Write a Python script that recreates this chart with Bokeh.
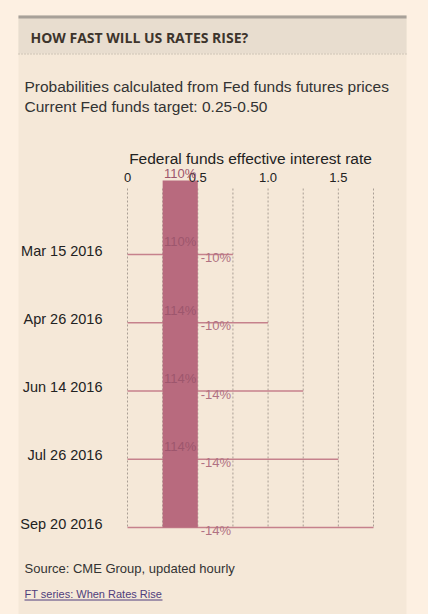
from bokeh.plotting import figure
from bokeh.models import Range1d, FixedTicker, LabelSet, ColumnDataSource, LinearAxis
from bokeh.core.properties import value
from bokeh.embed import file_html
from bokeh.resources import INLINE
from bokeh.core.templates import get_env

# ---- data ----
dates = ["Mar 15 2016", "Apr 26 2016", "Jun 14 2016", "Jul 26 2016", "Sep 20 2016"]
range_max = [0.75, 1.0, 1.25, 1.5, 1.75]
target = [0.25, 0.50]
prob_in_target = ["110%", "110%", "114%", "114%", "114%"]
prob_above = ["-10%", "-10%", "-14%", "-14%", "-14%"]
x_tick_values = [0, 0.5, 1.0, 1.5]
x_tick_labels = ["0", "0.5", "1.0", "1.5"]
grid_values = [0, 0.25, 0.5, 0.75, 1.0, 1.25, 1.5, 1.75]

title_text = "HOW FAST WILL US RATES RISE?"
subtitle_lines = ["Probabilities calculated from Fed funds futures prices",
                  "Current Fed funds target: 0.25-0.50"]
axis_title = "Federal funds effective interest rate"
source_text = "Source: CME Group, updated hourly"
link_text = "FT series: When Rates Rise"

# ---- styles ----
PAGE_BG = "#fdf0e2"
CARD_BG = "#f5e8d8"
HEAD_BG = "#e8ddcf"
GRAY = "#a8a199"
BAR = "#b86a7e"
LINE = "#c6818c"
FONT = "Liberation Sans"
W, H = 428, 614            # figure size in px
CX0, CX1, CY0 = 18, 406, 15  # card edges in px
X0_PX = 127                # px of rate 0 from figure left
PX_PER_UNIT = 140.57
ROW0_PX = 254              # px of first row from figure top
PX_PER_ROW = 68.25
LABEL_LIFT = 4             # px the date labels sit above their row line


def ux(px):
    return (px - X0_PX) / PX_PER_UNIT


def uy(px):
    return (px - ROW0_PX) / PX_PER_ROW


n = len(dates)
rows = list(range(n))

p = figure(width=W, height=H, output_backend="svg", toolbar_location=None,
           x_range=Range1d(ux(0), ux(W)), y_range=Range1d(uy(H), uy(0)),
           x_axis_location=None, y_axis_location=None,
           min_border=0, min_border_left=0, min_border_right=0,
           min_border_top=0, min_border_bottom=0)
lift = LABEL_LIFT / PX_PER_ROW
p.extra_x_ranges = {"px": Range1d(0, W)}
p.extra_y_ranges = {"px": Range1d(H, 0), "lab": Range1d(uy(H) + lift, uy(0) + lift)}
p.outline_line_color = None
p.background_fill_color = PAGE_BG
p.border_fill_color = PAGE_BG
p.grid.visible = False

PX = dict(x_range_name="px", y_range_name="px")

# ---- card decoration (pixel coordinates) ----
p.quad(left=CX0, right=CX1, top=CY0, bottom=H + 5, fill_color=CARD_BG, line_color=None, **PX)
p.quad(left=CX0, right=CX1, top=CY0, bottom=CY0 + 38, fill_color=HEAD_BG, line_color=None, **PX)
p.quad(left=CX0, right=CX1, top=CY0, bottom=CY0 + 3, fill_color=GRAY, line_color=None, **PX)
p.segment(x0=[CX0], y0=[CY0 + 38.5], x1=[CX1], y1=[CY0 + 38.5], line_color="#a89f95",
          line_width=1, line_dash="1 2", **PX)
p.text(x=[CX0 + 12], y=[CY0 + 22], text=[title_text], text_font=value("Open Sans"),
       text_font_style="bold", text_font_size="14px", text_color="#3d342c",
       text_baseline="middle", **PX)
p.text(x=[CX0 + 6, CX0 + 6], y=[CY0 + 71, CY0 + 91], text=subtitle_lines, text_font=value(FONT),
       text_font_size="15.5px", text_color="#333333", text_baseline="middle", **PX)
p.text(x=[CX0 + 6], y=[CY0 + 553], text=[source_text], text_font=value(FONT),
       text_font_size="13px", text_color="#333333", text_baseline="middle", **PX)
p.text(x=[CX0 + 6], y=[CY0 + 578], text=[link_text], text_font=value(FONT),
       text_font_size="11px", text_color="#4f3d7c", text_baseline="middle", **PX)
p.segment(x0=[CX0 + 6], y0=[CY0 + 584.5], x1=[CX0 + 144], y1=[CY0 + 584.5],
          line_color="#4f3d7c", line_width=1, **PX)

# ---- axes ----
xaxis = LinearAxis(ticker=FixedTicker(ticks=x_tick_values),
                   major_label_overrides={v: l for v, l in zip(x_tick_values, x_tick_labels)},
                   axis_label=axis_title, fixed_location=uy(187),
                   bounds=(grid_values[0], grid_values[-1]))
xaxis.axis_line_color = None
xaxis.major_tick_line_color = None
xaxis.minor_tick_line_color = None
xaxis.major_label_standoff = 0
xaxis.axis_label_standoff = 3
xaxis.major_label_text_font = FONT
xaxis.major_label_text_font_size = "13px"
xaxis.major_label_text_color = "#222222"
xaxis.axis_label_text_font = FONT
xaxis.axis_label_text_font_size = "15.5px"
xaxis.axis_label_text_font_style = "normal"
xaxis.axis_label_text_color = "#222222"
p.add_layout(xaxis, "above")

yaxis = LinearAxis(ticker=FixedTicker(ticks=rows), y_range_name="lab",
                   major_label_overrides={r: d for r, d in zip(rows, dates)},
                   fixed_location=0)
yaxis.axis_line_color = None
yaxis.major_tick_line_color = None
yaxis.minor_tick_line_color = None
yaxis.major_label_standoff = 19
yaxis.major_label_text_font = FONT
yaxis.major_label_text_font_size = "14.5px"
yaxis.major_label_text_color = "#222222"
p.add_layout(yaxis, "left")

# ---- grid (dotted verticals) ----
p.segment(x0=grid_values, y0=[uy(188)] * len(grid_values), x1=grid_values,
          y1=[rows[-1]] * len(grid_values), line_color="#a99e94", line_width=1, line_dash="2 2")

# ---- marks ----
src = ColumnDataSource(dict(row=rows, date=dates, zero=[0] * n, hi=range_max,
                            pin=prob_in_target, pab=prob_above,
                            mid=[(target[0] + target[1]) / 2] * n, tr=[target[1]] * n))
p.segment(x0="zero", y0="row", x1="hi", y1="row", source=src, line_color=LINE, line_width=1.5)
p.quad(left=[target[0]], right=[target[1]], bottom=[rows[-1]], top=[uy(180)],
       fill_color=BAR, line_color=None)

lab_in = LabelSet(x="mid", y="row", text="pin", source=src, y_offset=81,
                  text_align="center", text_baseline="middle", text_font=value(FONT),
                  text_font_size="13px", text_color="#9d566d")
lab_ab = LabelSet(x="tr", y="row", text="pab", source=src, x_offset=3, y_offset=-3,
                  text_align="left", text_baseline="middle", text_font=value(FONT),
                  text_font_size="13px", text_color="#b07282")
p.add_layout(lab_in)
p.add_layout(lab_ab)

tmpl = get_env().from_string(
    '{% extends "file.html" %}'
    '{% block preamble %}<style>html, body { background: ' + PAGE_BG + '; }</style>{% endblock %}'
)
open("out.html", "w").write(file_html(p, INLINE, template=tmpl))
